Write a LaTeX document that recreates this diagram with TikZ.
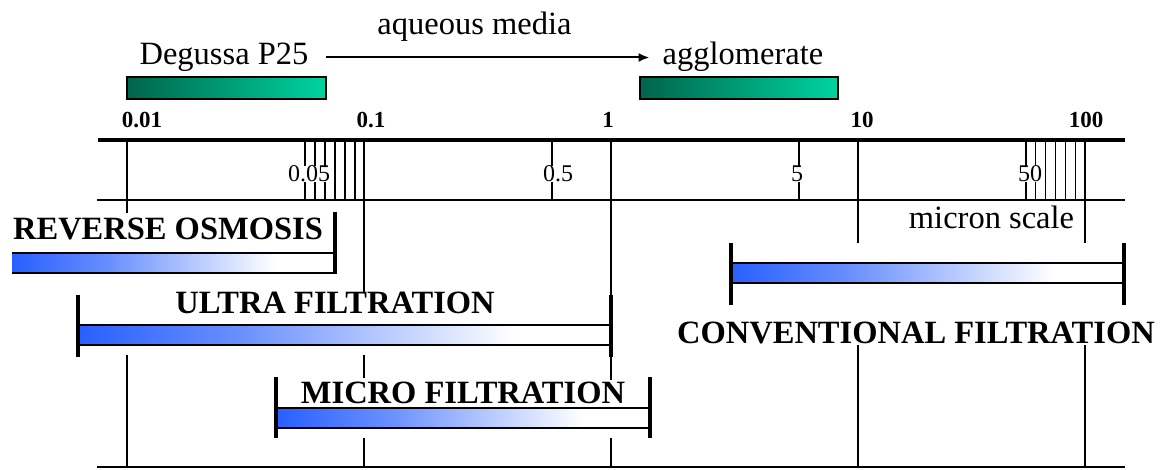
\documentclass[tikz,border=0pt]{standalone}
\usepackage{fontspec}
\setmainfont{Liberation Serif}
\usetikzlibrary{arrows.meta}
\definecolor{barblue}{RGB}{40,95,255}
\definecolor{gdark}{RGB}{0,100,75}
\definecolor{glight}{RGB}{0,212,160}
\pgfdeclarehorizontalshading{blueshade}{100bp}{color(0bp)=(barblue); color(25bp)=(barblue); color(40bp)=(barblue!70!white); color(66bp)=(white); color(100bp)=(white)}
\pgfdeclarehorizontalshading{greenshade}{100bp}{color(0bp)=(gdark); color(25bp)=(gdark); color(75bp)=(glight); color(100bp)=(glight)}
\begin{document}
\begin{tikzpicture}[x=1pt,y=-1pt,
  axisline/.style={line width=2pt},
  minorline/.style={line width=1.6pt},
  capline/.style={line width=4pt},
  barborder/.style={line width=2pt},
  bartext/.style={font=\fontsize{32.5}{36}\selectfont\bfseries, anchor=base, inner sep=0pt},
  plaintext/.style={font=\fontsize{32.5}{36}\selectfont, anchor=base, inner sep=0pt},
  toplabel/.style={plaintext, text height=22pt, text depth=7pt},
  decade/.style={font=\fontsize{23}{26}\selectfont\bfseries, anchor=base, inner sep=0pt},
  minorlabel/.style={font=\fontsize{24}{26}\selectfont, anchor=base, inner sep=0pt, fill=white},
  arr/.style={line width=2pt, -{Latex[length=11pt,width=9pt]}}]
\useasboundingbox (0,0) rectangle (1170,470);

% axis lines
\draw[line width=4pt] (98,140) -- (1125,140);
\draw[axisline] (97,200) -- (1125,200);
\draw[axisline] (97,467) -- (1125,467);

% decade verticals
\draw[axisline] (127,140) -- (127,213) (127,355) -- (127,467);
\draw[axisline] (364,140) -- (364,293) (364,355) -- (364,378) (364,438) -- (364,467);
\draw[axisline] (611,140) -- (611,380) (611,438) -- (611,467);
\draw[axisline] (858,140) -- (858,243) (858,345) -- (858,467);
\draw[axisline] (1085,140) -- (1085,243) (1085,345) -- (1085,467);

% minor ticks
\foreach \x in {305,315,325,335,345,355,552,799,1026,1035.5,1045.5,1055.5,1065.5,1075.5}
  \draw[minorline] (\x,140) -- (\x,200);

% green bars
\shade[shading=greenshade] (127,77) rectangle (326,99);
\draw[barborder] (127,77) rectangle (326,99);
\shade[shading=greenshade] (640,77) rectangle (838,99);
\draw[barborder] (640,77) rectangle (838,99);

% blue bars
% reverse osmosis
\shade[shading=blueshade] (12,253) rectangle (333,273);
\draw[barborder] (12,253) -- (333,253) (12,273) -- (333,273);
\draw[capline] (335,212) -- (335,274);
% ultra filtration
\shade[shading=blueshade] (78,325) rectangle (610,345);
\draw[barborder] (78,325) -- (610,325) (78,345) -- (610,345);
\draw[capline] (78,295) -- (78,357);
\draw[capline] (611,295) -- (611,357);
% micro filtration
\shade[shading=blueshade] (276,408) rectangle (650,428);
\draw[barborder] (276,408) -- (650,408) (276,428) -- (650,428);
\draw[capline] (276,377) -- (276,438);
\draw[capline] (650,377) -- (650,438);
% conventional filtration
\shade[shading=blueshade] (731,263) rectangle (1124,283);
\draw[barborder] (731,263) -- (1124,263) (731,283) -- (1124,283);
\draw[capline] (731,243) -- (731,305);
\draw[capline] (1124,243) -- (1124,305);

% top labels
\node[plaintext] (aq) at (474.5,35) {aqueous media};
\node[toplabel] (deg) at (224,65) {Degussa P25};
\node[toplabel] (agg) at (743,65) {agglomerate};
\draw[arr] ([xshift=17pt]deg.east) -- ([xshift=-13pt]agg.west);

% decade labels
\node[decade] (d001) at (142,128) {0.01};
\node[decade] (d01) at (371,128) {0.1};
\node[decade] (d1) at (608,128) {1};
\node[decade] (d10) at (862,128) {10};
\node[decade] (d100) at (1086,128) {100};

% minor labels
\node[minorlabel] (m005) at (309,182) {0.05};
\node[minorlabel] (m05) at (558,182) {0.5};
\node[minorlabel] (m5) at (797,182) {5};
\node[minorlabel] (m50) at (1030,182) {50};

\node[plaintext] (micron) at (991.5,229) {micron scale};

% process labels
\node[bartext] (ro) at (168,240) {REVERSE OSMOSIS};
\node[bartext] (uf) at (335,313) {ULTRA FILTRATION};
\node[bartext] (mf) at (463,403) {MICRO FILTRATION};
\node[bartext] (cf) at (916,343) {CONVENTIONAL FILTRATION};
\end{tikzpicture}
\end{document}
